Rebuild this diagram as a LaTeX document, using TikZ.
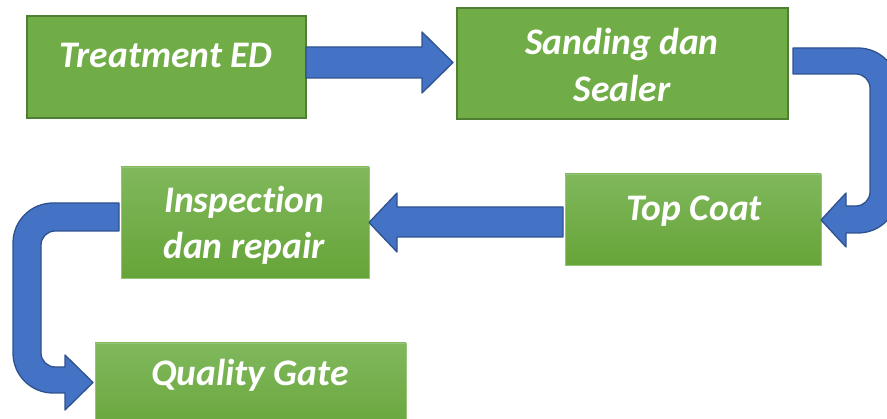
\documentclass[tikz,border=0pt]{standalone}
\usepackage{fontspec}
\setmainfont[Ligatures={NoCommon}]{Carlito}
\begin{document}
\begin{tikzpicture}[x=1pt,y=-1pt,
  flatbox/.style={draw={rgb,255:red,80;green,126;blue,50}, line width=1.6pt,
    fill={rgb,255:red,112;green,173;blue,71}, minimum width=#1, inner sep=0pt},
  shadebox/.style={draw={rgb,255:red,150;green,196;blue,118}, line width=0.8pt,
    top color={rgb,255:red,128;green,184;blue,92},
    bottom color={rgb,255:red,102;green,164;blue,56}, minimum width=#1, inner sep=0pt},
  lbl/.style={text=white, font=\fontsize{37.5}{45}\selectfont\bfseries\itshape,
    anchor=base, inner sep=0pt},
  blockarrow/.style={fill={rgb,255:red,68;green,114;blue,196},
    draw={rgb,255:red,47;green,82;blue,143}, line width=1.3pt, line join=round}]
\useasboundingbox (0,0) rectangle (887,419);
\clip (0,0) rectangle (887,419);
\fill[white] (0,0) rectangle (887,419);

% process boxes
\node[flatbox=279pt, minimum height=102pt] (ted) at (166.5,67) {};
\node[flatbox=331pt, minimum height=111pt] (sds) at (622.5,63.5) {};
\node[shadebox=256pt, minimum height=91pt] (tc) at (693,219.5) {};
\node[shadebox=248pt, minimum height=111pt] (idr) at (245,222.5) {};
\node[shadebox=311pt, minimum height=100pt] (qg) at (250.5,393) {};

% labels
\node[lbl] (tted) at (166,68) {Treatment ED};
\node[lbl] (tsds1) at (622,55) {Sanding dan};
\node[lbl] (tsds2) at (622,102) {Sealer};
\node[lbl] (ttc) at (694,221) {Top Coat};
\node[lbl] (tidr1) at (244,213) {Inspection};
\node[lbl] (tidr2) at (244,259) {dan repair};
\node[lbl] (tqg) at (250,386) {Quality Gate};

% Treatment ED -> Sanding dan Sealer
\draw[blockarrow] (306,47) -- (422,47) -- (422,32) -- (453,62.5) -- (422,93)
  -- (422,78) -- (306,78) -- cycle;

% Sanding dan Sealer -> Top Coat (U-turn on the right)
\draw[blockarrow] (793,48) -- (858,48)
  .. controls (880.1,48) and (898,65.9) .. (898,88)
  -- (898,193) .. controls (898,215.1) and (880.1,233) .. (858,233)
  -- (846,233) -- (846,247) -- (821,220) -- (846,193) -- (846,206)
  -- (856,206) .. controls (863.7,206) and (870,199.7) .. (870,192)
  -- (870,88) .. controls (870,80.3) and (863.7,74) .. (856,74)
  -- (793,74) -- cycle;

% Top Coat -> Inspection dan repair
\draw[blockarrow] (563,207) -- (397,207) -- (397,193) -- (369,222.5) -- (397,252)
  -- (397,237) -- (563,237) -- cycle;

% Inspection dan repair -> Quality Gate (U-turn on the left)
\draw[blockarrow] (119,203) -- (53,203)
  .. controls (30.9,203) and (13,220.9) .. (13,243)
  -- (13,353) .. controls (13,375.1) and (30.9,393) .. (53,393)
  -- (65,393) -- (65,410) -- (93,382.5) -- (65,355) -- (65,367)
  -- (55,367) .. controls (47.3,367) and (41,360.7) .. (41,353)
  -- (41,245) .. controls (41,237.3) and (47.3,231) .. (55,231)
  -- (119,231) -- cycle;
\end{tikzpicture}
\end{document}
